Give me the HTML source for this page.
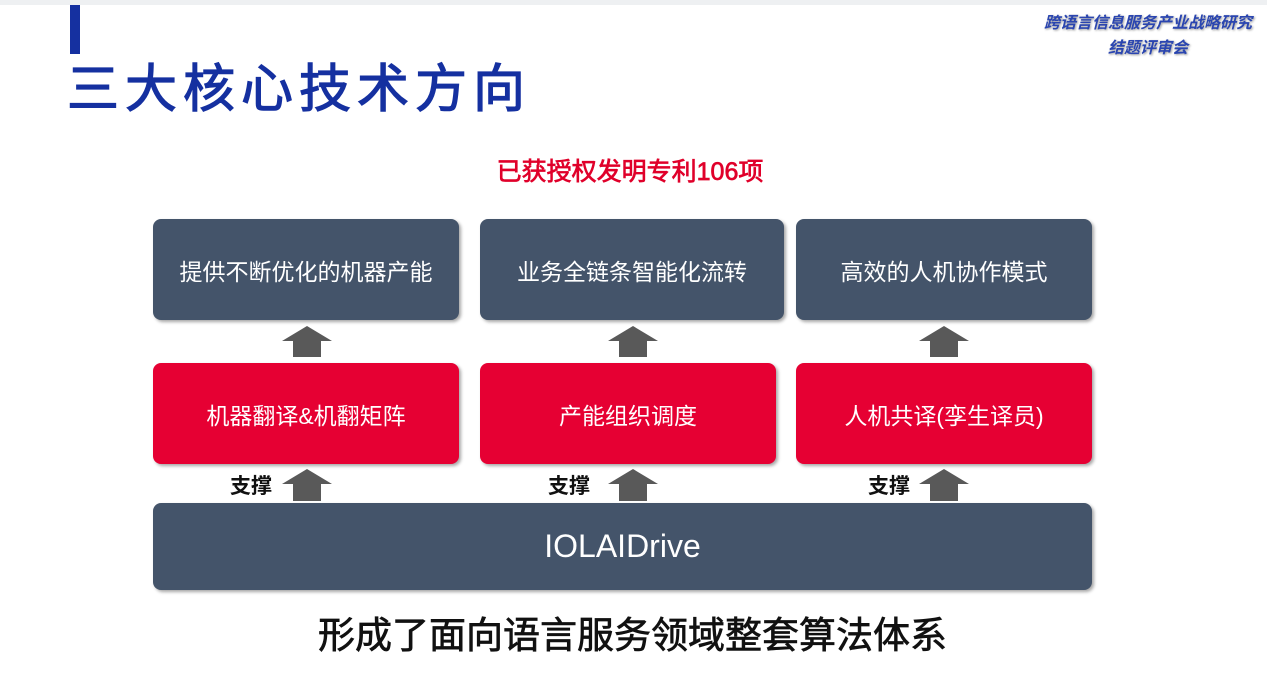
<!DOCTYPE html>
<html><head><meta charset="utf-8"><style>
body{margin:0;width:1267px;height:698px;background:#fff;position:relative;overflow:hidden;font-family:"Liberation Sans","Noto Sans CJK SC",sans-serif}
.abs{position:absolute}
.box{position:absolute;border-radius:8px;color:#fff;display:flex;align-items:center;justify-content:center;box-shadow:2px 2px 3px rgba(0,0,0,.35)}
.d{background:#44546a;font-size:23px}
.r{background:#e60033;font-size:23px}
.lbl{position:absolute;font-size:21px;font-weight:bold;color:#111}
.med{-webkit-text-stroke:0.7px currentColor}
</style></head><body>
<div class="abs" style="left:0;top:0;width:1267px;height:5px;background:#eef0f2"></div>
<div class="abs" style="left:70px;top:5px;width:10px;height:49px;background:#1530a0"></div>
<div class="abs med" style="left:67px;top:58px;font-size:52px;color:#1530a0;letter-spacing:6px;line-height:64px;-webkit-text-stroke:1.2px #1530a0">三大核心技术方向</div>
<div class="abs" style="left:1030px;top:11px;width:236px;text-align:center;font-size:16px;font-weight:bold;font-style:italic;color:#2a45b0;line-height:25px;text-shadow:1px 1px 2px rgba(0,0,0,.4)">跨语言信息服务产业战略研究<br>结题评审会</div>
<div class="abs med" style="left:400px;top:156px;width:460px;text-align:center;font-size:25px;color:#e0002a;line-height:32px">已获授权发明专利106项</div>

<div class="box d" style="left:153px;top:219px;width:306px;height:101px">提供不断优化的机器产能</div>
<div class="box d" style="left:480px;top:219px;width:304px;height:101px">业务全链条智能化流转</div>
<div class="box d" style="left:796px;top:219px;width:296px;height:101px">高效的人机协作模式</div>

<div class="box r" style="left:153px;top:363px;width:306px;height:101px">机器翻译&amp;机翻矩阵</div>
<div class="box r" style="left:480px;top:363px;width:296px;height:101px">产能组织调度</div>
<div class="box r" style="left:796px;top:363px;width:296px;height:101px">人机共译(孪生译员)</div>

<div class="box d" style="left:153px;top:503px;width:939px;height:87px;font-size:32px">IOLAIDrive</div>

<svg class="abs" style="left:0;top:0" width="1267" height="698">
<g fill="#595959">
<polygon points="307,326 332,341 321,341 321,357 293,357 293,341 282,341"/>
<polygon points="633,326 658,341 647,341 647,357 619,357 619,341 608,341"/>
<polygon points="944,326 969,341 958,341 958,357 930,357 930,341 919,341"/>
<polygon points="307,469 332,484 321,484 321,501 293,501 293,484 282,484"/>
<polygon points="633,469 658,484 647,484 647,501 619,501 619,484 608,484"/>
<polygon points="944,469 969,484 958,484 958,501 930,501 930,484 919,484"/>
</g></svg>
<div class="lbl" style="left:230px;top:470px">支撑</div>
<div class="lbl" style="left:548px;top:470px">支撑</div>
<div class="lbl" style="left:868px;top:470px">支撑</div>

<div class="abs med" style="left:150px;top:612px;width:965px;text-align:center;font-size:37px;color:#111;line-height:48px">形成了面向语言服务领域整套算法体系</div>
</body></html>
